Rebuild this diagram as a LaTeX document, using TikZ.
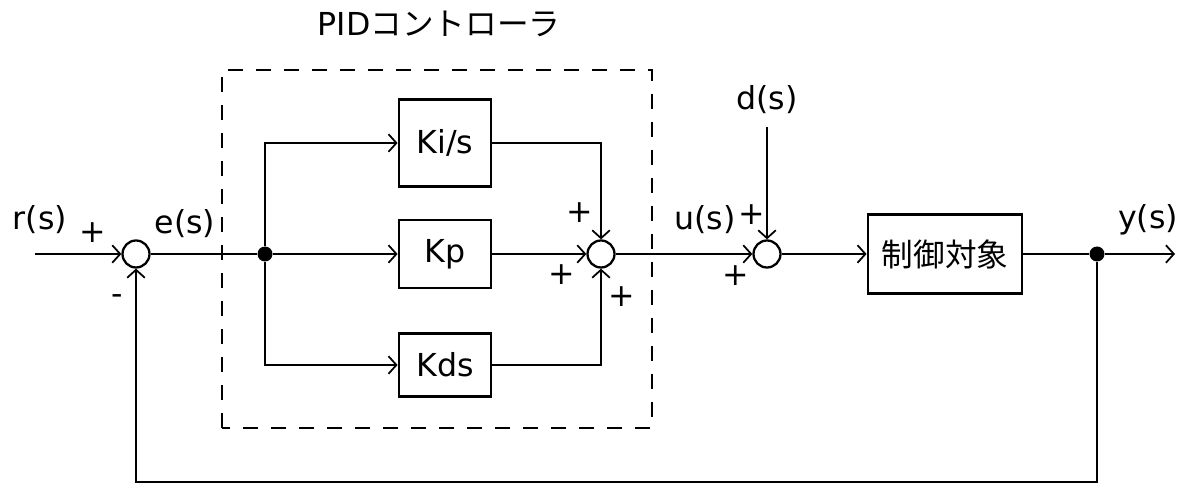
\documentclass[tikz,border=0pt]{standalone}
\usepackage{fontspec}
\setmainfont{DejaVu Sans}
\newfontfamily\jpfont{Noto Sans CJK JP}
\usetikzlibrary{arrows.meta}
\tikzset{
  block/.style={draw=black, line width=1.6pt, fill=white, inner sep=0pt, minimum width=1.84cm},
  sumjunction/.style={draw=black, line width=1.3pt, circle, inner sep=0pt, minimum size=0.54cm},
  branchdot/.style={fill=black, circle, inner sep=0pt, minimum size=0.30cm},
  signal/.style={line width=1.4pt, draw=black, -{Straight Barb[length=4.5pt, width=10pt, line width=1pt]}},
  wire/.style={line width=1.4pt, draw=black},
  pidframe/.style={line width=1.4pt, draw=black, dash pattern=on 0.3cm off 0.26cm},
  sigtext/.style={font=\fontsize{18}{20}\selectfont},
}

\begin{document}
\begin{tikzpicture}
\useasboundingbox (0,0) rectangle (23.88,9.70);
\draw[pidframe] (4.44,1.14) rectangle (13.04,8.30);
\node[sigtext] (pidtitle) at (8.78,9.22) {PID{\jpfont コントローラ}};
\coordinate (rin) at (0.70,4.62);
\node[sumjunction] (sum1) at (2.72,4.62) {};
\node[branchdot] (split) at (5.30,4.62) {};
\node[block, minimum height=1.74cm, sigtext] (ki) at (8.90,6.84) {Ki/s};
\node[block, minimum height=1.36cm, sigtext] (kp) at (8.90,4.62) {Kp};
\node[block, minimum height=1.26cm, sigtext] (kd) at (8.90,2.40) {Kds};
\node[sumjunction] (sum2) at (12.02,4.62) {};
\node[sumjunction] (sum3) at (15.34,4.62) {};
\coordinate (din) at (15.34,7.16);
\node[block, minimum width=3.08cm, minimum height=1.58cm, sigtext] (plant) at (18.90,4.62) {\jpfont 制御対象};
\node[branchdot] (tap) at (21.94,4.62) {};
\coordinate (yout) at (23.50,4.62);
\draw[signal] (rin) -- (sum1);
\draw[wire] (sum1) -- (split);
\draw[signal] (split) |- (ki);
\draw[signal] (split) -- (kp);
\draw[signal] (split) |- (kd);
\draw[signal] (ki) -| (sum2);
\draw[signal] (kp) -- (sum2);
\draw[signal] (kd) -| (sum2);
\draw[signal] (sum2) -- (sum3);
\draw[signal] (din) -- (sum3);
\draw[signal] (sum3) -- (plant);
\draw[wire] (plant) -- (tap);
\draw[signal] (tap) -- (yout);
\draw[signal] (tap) -- ++(0,-4.56) -| (sum1);
\node[sigtext] (rlabel) at (0.80,5.30) {r(s)};
\node[sigtext] (elabel) at (3.70,5.22) {e(s)};
\node[sigtext] (ulabel) at (14.10,5.30) {u(s)};
\node[sigtext] (dlabel) at (15.34,7.70) {d(s)};
\node[sigtext] (ylabel) at (22.96,5.30) {y(s)};
\node[sigtext] (s1plus) at (1.86,5.04) {+};
\node[sigtext] (s1minus) at (2.34,3.70) {-};
\node[sigtext] (s2top) at (11.60,5.44) {+};
\node[sigtext] (s2left) at (11.24,4.20) {+};
\node[sigtext] (s2bottom) at (12.44,3.76) {+};
\node[sigtext] (s3top) at (15.04,5.40) {+};
\node[sigtext] (s3left) at (14.72,4.18) {+};
\end{tikzpicture}
\end{document}
